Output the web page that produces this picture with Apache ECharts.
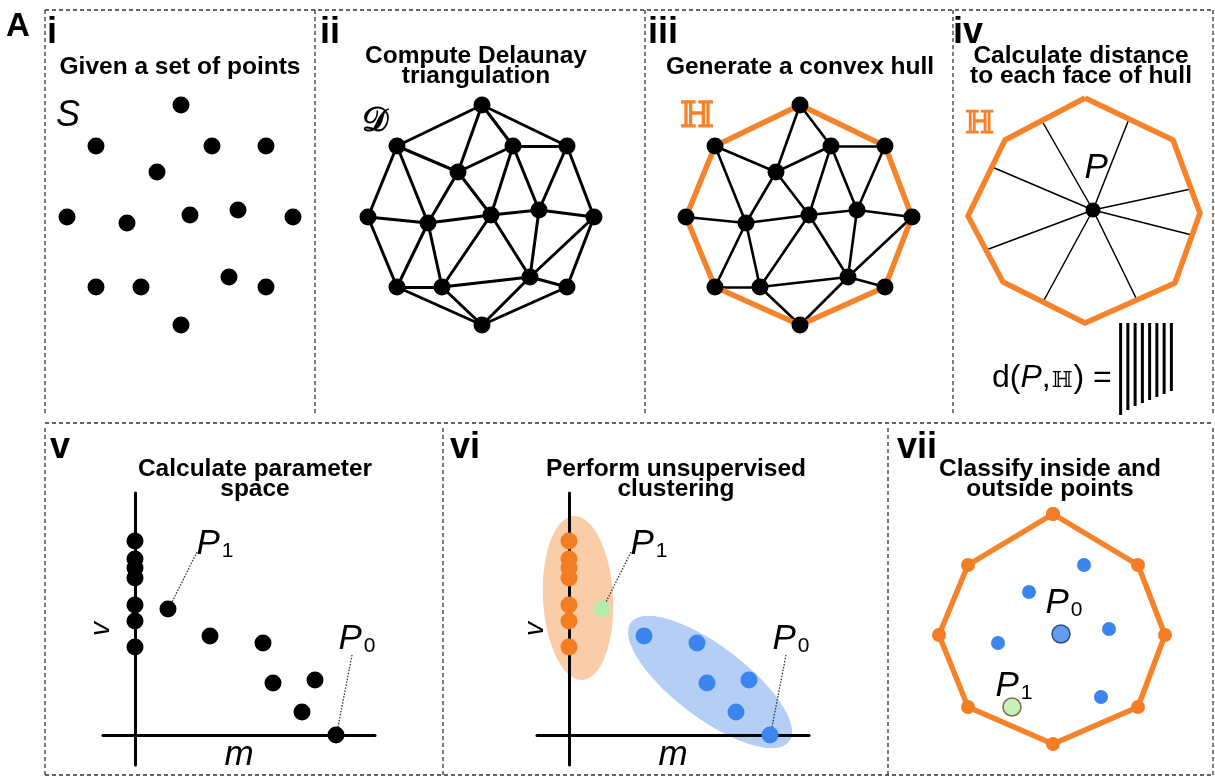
<!DOCTYPE html>
<html>
<head>
<meta charset="utf-8">
<title>Convex hull point classification</title>
<script src="https://cdn.jsdelivr.net/npm/echarts/dist/echarts.min.js"></script>
<style>
  html, body { margin: 0; padding: 0; background: #fff; }
  #chart { width: 1215px; height: 781px; }
</style>
</head>
<body>
<div id="chart"></div>
<script>
// ---------- data ----------
// Point set S (panels i-iii); x to the right, y upward
const pointSet = [
  [0.1, 11.0], [-8.4, 6.9], [3.2, 6.9], [8.6, 6.9], [-2.3, 4.3],
  [-11.3, -0.2], [-5.3, -0.8], [1.0, 0.0], [5.8, 0.5], [11.3, -0.2],
  [-8.4, -7.2], [-3.9, -7.2], [4.9, -6.2], [8.6, -7.2], [0.1, -11.0]
];
// Delaunay triangulation edges (index pairs into pointSet)
const delaunayEdges = [
  [0, 1], [0, 4], [0, 2], [0, 3], [1, 4], [1, 5], [1, 6], [2, 3], [2, 4], [2, 7],
  [2, 8], [3, 8], [3, 9], [4, 6], [4, 7], [5, 6], [5, 10], [6, 7], [6, 10], [6, 11],
  [7, 8], [7, 11], [7, 12], [8, 9], [8, 12], [9, 12], [9, 13], [10, 11], [10, 14],
  [11, 12], [11, 14], [12, 13], [12, 14], [13, 14]
];
// Convex hull vertex order
const hullOrder = [0, 3, 9, 13, 14, 10, 5, 1];

// Panel iv: hull faces, probe point P and the foot of each distance line
const hullIV = [[-0.8, 11.2], [8.0, 7.0], [10.7, -0.3], [8.2, -7.3], [-0.8, -11.3], [-9.0, -7.2], [-12.5, -0.6], [-8.8, 7.0]];
const probeP = [0, 0];
const spokeEnds = [[-5.1, 8.9], [3.6, 9.1], [-10.1, 4.3], [9.8, 2.1], [-10.7, -4.0], [9.9, -2.5], [-5.0, -9.2], [4.4, -9.0]];
const faceDistances = [9.2, 8.7, 8.3, 8.0, 7.7, 7.4, 7.1, 6.8];
const faceLabels = ['f1', 'f2', 'f3', 'f4', 'f5', 'f6', 'f7', 'f8'];
const labelP = [-0.8, 4.05];

// Panels v-vi: parameter space (m, v)
const axisPointsV = [19.4, 17.6, 16.7, 15.7, 13.0, 11.4, 8.8];   // points with m = 0
const spreadPoints = [[7.5, 9.9], [12.8, 9.2], [13.8, 5.2], [18.0, 5.5], [16.7, 2.3]];
const pointP1 = [3.3, 12.6];
const pointP0 = [20.1, 0];
const leaderP1 = [[6.2, 18.3], [3.7, 13.3]];
const leaderP0 = [[21.7, 8.0], [20.3, 0.8]];
const labelP1 = [6.2, 18.95];
const labelP0 = [20.4, 9.5];
// Cluster ellipses: [cx, cy, rx, ry, angle in degrees]
const clusterInside = [0.9, 13.7, 3.5, 8.2, 3];
const clusterOutside = [14.1, 5.3, 9.9, 3.6, -37];

// Panel vii: classified points
const hullVII = [[0.1, 11.5], [8.6, 6.4], [11.3, -0.6], [8.6, -7.8], [0.1, -11.5], [-8.4, -7.8], [-11.3, -0.6], [-8.4, 6.4]];
const insideVII = [[3.2, 6.4], [-2.3, 3.7], [5.7, 0.0], [-5.4, -1.4], [4.9, -6.8]];
const p0VII = [0.9, -0.5];
const p1VII = [-4.0, -7.8];
const labelP0VII = [-0.6, 2.45];
const labelP1VII = [-5.6, -5.8];

// ---------- style ----------
const FONT = '"Liberation Sans", Arial, Helvetica, sans-serif';
const ORANGE = '#F5832B';
const ORANGE_DOT = '#F47C22';
const BLUE = '#3C85EF';
const GREEN = '#B5ECA9';
const BORDER = '#333333';

// ---------- helpers ----------
const closed = arr => arr.concat([arr[0]]);
const edgeData = (pts, edges) => edges.map(([a, b]) => ({ coords: [pts[a], pts[b]] }));
const isHullEdge = ([a, b]) => hullOrder.some((h, i) => {
  const n = hullOrder[(i + 1) % hullOrder.length];
  return (a === h && b === n) || (a === n && b === h);
});

function hiddenAxis(gridIndex, min, max) {
  return { gridIndex, type: 'value', min, max, show: false };
}

function edgesSeries(g, data, color, width, extra) {
  return Object.assign({
    type: 'lines', coordinateSystem: 'cartesian2d', xAxisIndex: g, yAxisIndex: g,
    data, silent: true, z: 3,
    lineStyle: { color, width, opacity: 1, cap: 'round' }
  }, extra || {});
}

function dots(g, data, color, size, extra) {
  return Object.assign({
    type: 'scatter', xAxisIndex: g, yAxisIndex: g, data, symbolSize: size,
    itemStyle: { color, opacity: 1 }, silent: true, z: 10
  }, extra || {});
}

function polygonLine(g, pts, color, width, extra) {
  return Object.assign({
    type: 'line', xAxisIndex: g, yAxisIndex: g, data: closed(pts), symbol: 'none',
    lineStyle: { color, width, join: 'round' }, silent: true, z: 4
  }, extra || {});
}

const pRich = {
  p: { fontSize: 35, fontStyle: 'italic', fontFamily: FONT, color: '#000', lineHeight: 34, verticalAlign: 'bottom' },
  s: { fontSize: 21, fontFamily: FONT, color: '#000', lineHeight: 10, verticalAlign: 'bottom', padding: [0, 0, 0, 2] }
};
function pLabels(g, items) {
  return {
    type: 'scatter', xAxisIndex: g, yAxisIndex: g, symbolSize: 1, silent: true, z: 30,
    itemStyle: { color: '#fff', opacity: 0 },
    data: items.map(it => ({
      value: it.at,
      label: { formatter: it.sub ? '{p|P}{s|' + it.sub + '}' : '{p|P}' }
    })),
    label: { show: true, position: [0, 0], align: 'left', verticalAlign: 'middle',
      color: '#000', opacity: 1, textBorderWidth: 0, rich: pRich }
  };
}

function ellipse(g, params, color) {
  return {
    type: 'custom', xAxisIndex: g, yAxisIndex: g, data: [params], silent: true, z: 1,
    renderItem: (p, api) => {
      const cx = api.value(0), cy = api.value(1), rx = api.value(2), ry = api.value(3);
      const a = api.value(4) * Math.PI / 180;
      const pts = [];
      for (let k = 0; k < 120; k++) {
        const t = k / 120 * Math.PI * 2;
        const ex = rx * Math.cos(t), ey = ry * Math.sin(t);
        pts.push(api.coord([cx + ex * Math.cos(a) - ey * Math.sin(a), cy + ex * Math.sin(a) + ey * Math.cos(a)]));
      }
      return { type: 'polygon', shape: { points: pts }, style: { fill: color } };
    }
  };
}

function paramAxes(g) {
  const common = {
    gridIndex: g, type: 'value', z: 5,
    axisLine: { show: true, onZero: true, lineStyle: { color: '#000', width: 3 } },
    axisTick: { show: false }, axisLabel: { show: false }, splitLine: { show: false },
    nameLocation: 'middle'
  };
  return {
    x: Object.assign({}, common, { min: -3.2, max: 24, name: 'm', nameGap: -27,
      nameTextStyle: { fontSize: 35, fontStyle: 'italic', fontFamily: FONT, color: '#000' } }),
    y: Object.assign({}, common, { min: -3, max: 24.2, name: 'v', nameGap: -12,
      nameTextStyle: { fontSize: 28, fontStyle: 'italic', fontFamily: FONT, color: '#000' } })
  };
}

// text placed by its first baseline
function txt(text, x, baseline, size, opt) {
  opt = opt || {};
  const lh = opt.lineHeight || size;
  const align = opt.align || 'left';
  return {
    type: 'text', x, y: baseline - (lh / 2 + 0.24 * size), z: 50, silent: true,
    style: {
      text, fill: opt.color || '#000',
      font: (opt.style || 'normal') + ' ' + (opt.weight || 'normal') + ' ' + size + 'px ' + (opt.family || FONT),
      textAlign: align, align, textVerticalAlign: 'top', verticalAlign: 'top', lineHeight: lh,
      rich: opt.rich
    }
  };
}
function dashed(x1, y1, x2, y2) {
  return { type: 'line', silent: true, z: 0, shape: { x1, y1, x2, y2 },
    style: { stroke: BORDER, lineWidth: 1.3, lineDash: [4, 3] } };
}

// ---------- layout ----------
const gridBase = { outerBoundsMode: 'none', containLabel: false };
const grids = [
  { left: 45, top: 10, width: 270, height: 406 },    // 0 panel i
  { left: 346, top: 10, width: 270, height: 406 },   // 1 panel ii
  { left: 664, top: 10, width: 270, height: 406 },   // 2 panel iii
  { left: 958, top: 10, width: 270, height: 406 },   // 3 panel iv
  { left: 1117, top: 323, width: 58, height: 100 },  // 4 panel iv distances
  { left: 103, top: 493, width: 272, height: 272 },  // 5 panel v
  { left: 537, top: 493, width: 272, height: 272 },  // 6 panel vi
  { left: 917, top: 429, width: 270, height: 340 }   // 7 panel vii
].map(g => Object.assign({}, gridBase, g));

const axV = paramAxes(5), axVI = paramAxes(6);
const xAxes = [
  hiddenAxis(0, -13.5, 13.5), hiddenAxis(1, -13.5, 13.5), hiddenAxis(2, -13.5, 13.5),
  hiddenAxis(3, -13.5, 13.5),
  { gridIndex: 4, type: 'category', data: faceLabels, show: false },
  axV.x, axVI.x,
  hiddenAxis(7, -13.5, 13.5)
];
const yAxes = [
  hiddenAxis(0, -20.1, 20.5), hiddenAxis(1, -20.1, 20.5), hiddenAxis(2, -20.1, 20.5),
  hiddenAxis(3, -20.6, 20),
  { gridIndex: 4, type: 'value', min: 0, max: 10, inverse: true, show: false },
  axV.y, axVI.y,
  hiddenAxis(7, -14, 20)
];

const axisPts = axisPointsV.map(v => [0, v]);
const leaderStyle = { lineStyle: { color: '#333', width: 1.3, type: [1.5, 1.5], opacity: 1 } };

const series = [
  // i: the point set
  dots(0, pointSet, '#000', 17),
  // ii: Delaunay triangulation
  edgesSeries(1, edgeData(pointSet, delaunayEdges), '#000', 3),
  dots(1, pointSet, '#000', 17),
  // iii: triangulation with the convex hull
  edgesSeries(2, edgeData(pointSet, delaunayEdges.filter(e => !isHullEdge(e))), '#000', 2.6),
  polygonLine(2, hullOrder.map(i => pointSet[i]), ORANGE, 5.5),
  dots(2, pointSet, '#000', 17),
  // iv: distance from P to each face
  polygonLine(3, hullIV, ORANGE, 5.5),
  edgesSeries(3, spokeEnds.map(e => ({ coords: [probeP, e] })), '#000', 1.5),
  dots(3, [probeP], '#000', 15),
  pLabels(3, [{ at: labelP }]),
  { type: 'bar', xAxisIndex: 4, yAxisIndex: 4, data: faceDistances, barWidth: 3,
    itemStyle: { color: '#000' }, silent: true },
  // v: parameter space
  dots(5, axisPts, '#000', 17),
  dots(5, spreadPoints.concat([pointP1, pointP0]), '#000', 17),
  edgesSeries(5, [{ coords: leaderP1 }, { coords: leaderP0 }], '#333', 1.3, leaderStyle),
  pLabels(5, [{ at: labelP1, sub: '1' }, { at: labelP0, sub: '0' }]),
  // vi: clustering
  ellipse(6, clusterInside, '#F9CDA8'),
  ellipse(6, clusterOutside, '#B5CEF5'),
  dots(6, axisPts, ORANGE_DOT, 17),
  dots(6, spreadPoints.concat([pointP0]), BLUE, 17),
  dots(6, [pointP1], GREEN, 17),
  edgesSeries(6, [{ coords: leaderP1 }, { coords: leaderP0 }], '#333', 1.3, leaderStyle),
  pLabels(6, [{ at: labelP1, sub: '1' }, { at: labelP0, sub: '0' }]),
  // vii: classification against the hull
  polygonLine(7, hullVII, ORANGE, 5.5, { symbol: 'circle', symbolSize: 14, showAllSymbol: true, itemStyle: { color: ORANGE_DOT } }),
  dots(7, insideVII, BLUE, 14),
  dots(7, [p0VII], BLUE, 18, { itemStyle: { color: BLUE, borderColor: '#1c2d5a', borderWidth: 1.5 } }),
  dots(7, [p1VII], GREEN, 18, { itemStyle: { color: GREEN, borderColor: '#6b4a2a', borderWidth: 1.5 } }),
  pLabels(7, [{ at: labelP0VII, sub: '0' }, { at: labelP1VII, sub: '1' }])
];

// ---------- panel frames and captions ----------
const graphics = [];
// top row frames
graphics.push(dashed(45, 10, 1213, 10));
[45, 315, 645, 953, 1213].forEach(x => graphics.push(dashed(x, 10, x, 416)));
// bottom row frames
graphics.push(dashed(45, 423, 1213, 423));
[45, 443, 888, 1213].forEach(x => graphics.push(dashed(x, 428, x, 775)));
graphics.push(dashed(45, 775, 1213, 775));

const B = { weight: 'bold' };
graphics.push(txt('A', 6, 35, 33, B));
graphics.push(txt('i', 47, 42, 36, B));
graphics.push(txt('ii', 320, 42, 36, B));
graphics.push(txt('iii', 648, 42, 36, B));
graphics.push(txt('iv', 953, 42, 36, B));
graphics.push(txt('v', 50, 457, 36, B));
graphics.push(txt('vi', 450, 457, 36, B));
graphics.push(txt('vii', 897, 457, 36, B));

const T = (text, cx, base) => txt(text, cx, base, 24.5, { weight: 'bold', align: 'center', lineHeight: 20.5 });
graphics.push(T('Given a set of points', 180, 73.5));
graphics.push(T('Compute Delaunay\ntriangulation', 476, 62));
graphics.push(T('Generate a convex hull', 800, 73.5));
graphics.push(T('Calculate distance\nto each face of hull', 1081, 62));
graphics.push(T('Calculate parameter\nspace', 255, 475));
graphics.push(T('Perform unsupervised\nclustering', 676, 475));
graphics.push(T('Classify inside and\noutside points', 1050, 475));

// set symbols
graphics.push(txt('S', 56, 125, 36, { style: 'italic' }));
graphics.push(txt('𝒟', 362, 130, 33, { weight: 'bold', family: '"DejaVu Serif", serif' }));
graphics.push(txt('ℍ', 680, 126, 36, { color: ORANGE, weight: 'bold', family: '"DejaVu Serif", serif' }));
graphics.push(txt('ℍ', 965, 132, 31, { color: ORANGE, weight: 'bold', family: '"DejaVu Serif", serif' }));
graphics.push(txt('{n|d(}{i|P}{n|,}{h|ℍ}{n|) =}', 992, 386, 32, {
  rich: {
    n: { fontSize: 32, fontFamily: FONT, color: '#000', lineHeight: 32 },
    i: { fontSize: 32, fontFamily: FONT, fontStyle: 'italic', color: '#000', lineHeight: 32 },
    h: { fontSize: 22, fontFamily: '"DejaVu Serif", serif', color: '#6a6a6a', lineHeight: 32, padding: [6, 1, 0, 1] }
  }
}));

const option = {
  backgroundColor: '#ffffff',
  animation: false,
  grid: grids,
  xAxis: xAxes,
  yAxis: yAxes,
  series,
  graphic: { elements: graphics }
};

const chart = echarts.init(document.getElementById('chart'), null, { renderer: 'canvas' });
chart.setOption(option);
</script>
</body>
</html>
